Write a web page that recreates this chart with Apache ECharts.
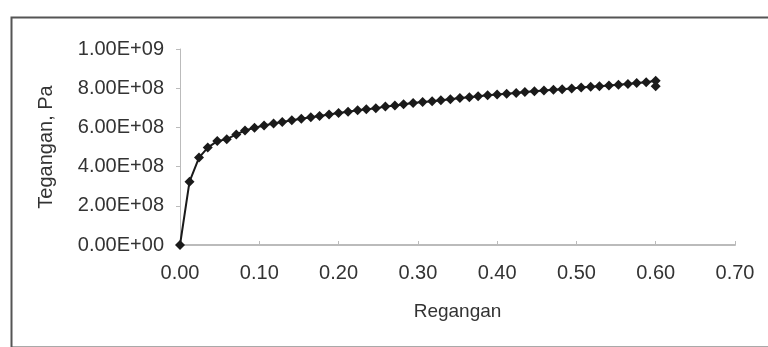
<!DOCTYPE html>
<html>
<head>
<meta charset="utf-8">
<script src="https://cdn.jsdelivr.net/npm/echarts@6/dist/echarts.min.js"></script>
<style>
html,body{margin:0;padding:0;background:#fff;}
#c{width:768px;height:347px;}
</style>
</head>
<body>
<div id="c"></div>
<script>
// Strain (Regangan)
const strain = [0, 0.012, 0.024, 0.035, 0.047, 0.059, 0.071, 0.082, 0.094, 0.106,
  0.118, 0.129, 0.141, 0.153, 0.165, 0.176, 0.188, 0.200, 0.212, 0.224,
  0.235, 0.247, 0.259, 0.271, 0.282, 0.294, 0.306, 0.318, 0.329, 0.341,
  0.353, 0.365, 0.376, 0.388, 0.400, 0.412, 0.424, 0.435, 0.447, 0.459,
  0.471, 0.482, 0.494, 0.506, 0.518, 0.529, 0.541, 0.553, 0.565, 0.576,
  0.588, 0.600, 0.600];
// Stress (Tegangan, Pa)
const stress = [0, 3.23e8, 4.46e8, 4.97e8, 5.30e8, 5.40e8, 5.64e8, 5.84e8, 5.98e8, 6.10e8,
  6.20e8, 6.28e8, 6.36e8, 6.44e8, 6.52e8, 6.58e8, 6.66e8, 6.73e8, 6.80e8, 6.87e8,
  6.92e8, 6.98e8, 7.06e8, 7.12e8, 7.18e8, 7.24e8, 7.30e8, 7.34e8, 7.39e8, 7.44e8,
  7.50e8, 7.54e8, 7.59e8, 7.64e8, 7.68e8, 7.72e8, 7.76e8, 7.80e8, 7.84e8, 7.88e8,
  7.92e8, 7.95e8, 7.99e8, 8.03e8, 8.07e8, 8.10e8, 8.14e8, 8.17e8, 8.21e8, 8.26e8,
  8.30e8, 8.38e8, 8.10e8];
const xTitle = 'Regangan';
const yTitle = 'Tegangan, Pa';

function sci(v) {
  if (v === 0) return '0.00E+00';
  const e = Math.floor(Math.log10(Math.abs(v)) + 1e-9);
  const m = v / Math.pow(10, e);
  return m.toFixed(2) + 'E+' + (e < 10 ? '0' + e : e);
}

const chart = echarts.init(document.getElementById('c'));
const font = '"Liberation Sans", Arial, sans-serif';
chart.setOption({
  animation: false,
  backgroundColor: '#fff',
  graphic: [{
    type: 'rect', left: 9, top: 15, silent: true,
    shape: { width: 780, height: 330 },
    style: { fill: 'none', stroke: '#555', lineWidth: 2 }
  }],
  grid: { left: 180, right: 33, top: 49, bottom: 102 },
  xAxis: {
    type: 'value', min: 0, max: 0.7, interval: 0.1,
    name: xTitle, nameLocation: 'middle', nameGap: 57,
    nameTextStyle: { color: '#333', fontSize: 19, fontFamily: font },
    axisLine: { lineStyle: { color: '#bbb', width: 2 } },
    axisTick: { show: true, inside: true, length: 4, lineStyle: { color: '#bbb' } },
    splitLine: { show: false },
    axisLabel: { color: '#333', fontSize: 20, fontFamily: font, margin: 18,
      formatter: v => v.toFixed(2) }
  },
  yAxis: {
    type: 'value', min: 0, max: 1e9, interval: 2e8,
    name: yTitle, nameLocation: 'middle', nameGap: 124,
    nameTextStyle: { color: '#333', fontSize: 20, fontFamily: font },
    axisLine: { show: true, lineStyle: { color: '#bbb', width: 1 } },
    axisTick: { show: true, length: 4, lineStyle: { color: '#bbb' } },
    splitLine: { show: false },
    axisLabel: { color: '#333', fontSize: 20, fontFamily: font, margin: 16,
      formatter: sci }
  },
  series: [{
    type: 'line',
    data: strain.map((x, i) => [x, stress[i]]),
    symbol: 'diamond', symbolSize: 10,
    itemStyle: { color: '#1a1a1a' },
    lineStyle: { color: '#1a1a1a', width: 2 }
  }]
});
</script>
</body>
</html>
